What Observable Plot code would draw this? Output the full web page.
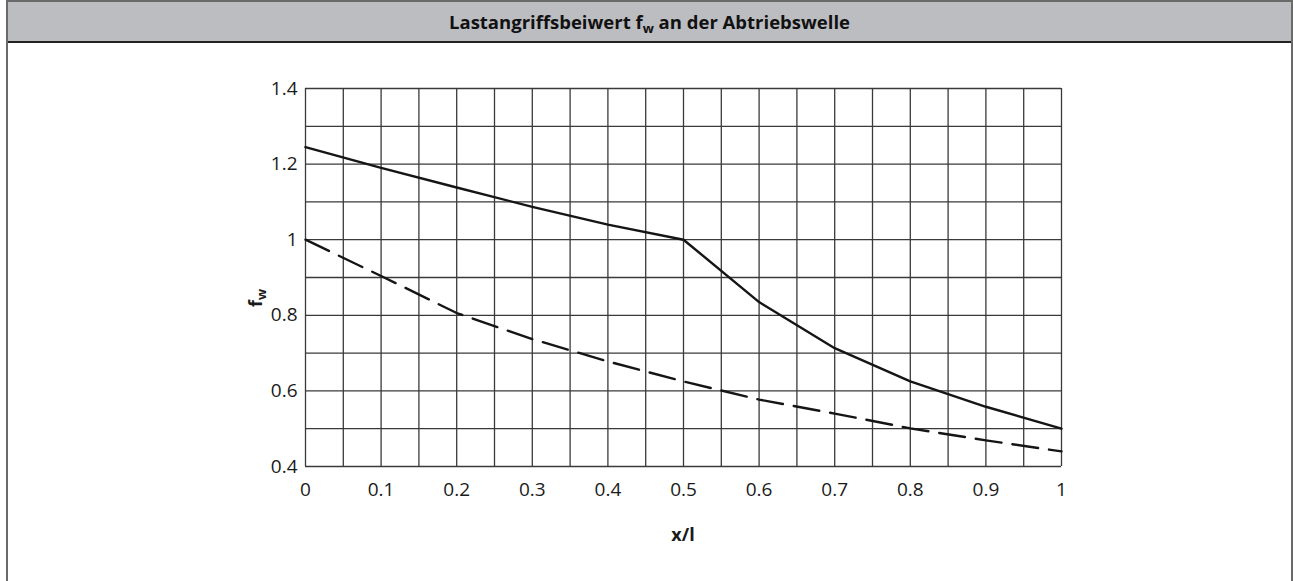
<!DOCTYPE html>
<html><head><meta charset="utf-8">
<script src="https://cdn.jsdelivr.net/npm/d3@7"></script>
<script src="https://cdn.jsdelivr.net/npm/@observablehq/plot@0.6"></script>
<style>
body{margin:0;background:#fff;font-family:"Open Sans",sans-serif;}
#frame{position:absolute;left:6px;top:0;width:1283px;height:620px;border:2px solid #6a6a6a;border-bottom:none;}
#title{height:39px;background:#bcbdc1;border-bottom:2px solid #222;text-align:center;font-weight:bold;font-size:18.5px;line-height:39px;color:#111;}
#title sub{font-size:13px;vertical-align:-4px;line-height:0;}
#chart{position:absolute;left:0;top:42px;}
</style></head><body>
<div id="frame"><div id="title">Lastangriffsbeiwert f<sub>w</sub> an der Abtriebswelle</div></div>
<div id="chart"></div>
<script>
const xValues = [0, 0.1, 0.2, 0.3, 0.4, 0.5, 0.6, 0.7, 0.8, 0.9, 1.0];
const solidValues = [1.245, 1.19, 1.138, 1.087, 1.04, 1.0, 0.835, 0.713, 0.625, 0.558, 0.5];
const dashedValues = [1.0, 0.904, 0.806, 0.737, 0.678, 0.625, 0.577, 0.54, 0.501, 0.469, 0.44];
const xTickLabels = ["0", "0.1", "0.2", "0.3", "0.4", "0.5", "0.6", "0.7", "0.8", "0.9", "1"];
const yTickLabels = ["0.4", "0.6", "0.8", "1", "1.2", "1.4"];
const xGridValues = [0, 0.05, 0.1, 0.15, 0.2, 0.25, 0.3, 0.35, 0.4, 0.45, 0.5, 0.55, 0.6, 0.65, 0.7, 0.75, 0.8, 0.85, 0.9, 0.95, 1.0];
const yGridValues = [0.4, 0.5, 0.6, 0.7, 0.8, 0.9, 1.0, 1.1, 1.2, 1.3, 1.4];
const xLabel = "x/l";
const yLabelMain = "f";
const yLabelSub = "w";

const xTicks = xTickLabels.map(Number);
const yTicks = yTickLabels.map(Number);
const solid = xValues.map((x, i) => ({x, y: solidValues[i]}));
const dashed = xValues.map((x, i) => ({x, y: dashedValues[i]}));

const W = 1293, H = 539;
const mL = 305, mR = 232, mT = 46, mB = 115;

const plot = Plot.plot({
  width: W, height: H,
  marginLeft: mL, marginRight: mR, marginTop: mT, marginBottom: mB,
  style: {fontFamily: "'Open Sans', sans-serif", fontSize: "19px", color: "#1a1a1a", background: "transparent", overflow: "visible"},
  x: {domain: [0, 1]},
  y: {domain: [0.4, 1.4]},
  marks: [
    Plot.ruleX(xGridValues, {stroke: "#3a3a3a", strokeWidth: 1.3}),
    Plot.ruleY(yGridValues, {stroke: "#3a3a3a", strokeWidth: 1.3}),
    Plot.line(solid, {x: "x", y: "y", stroke: "#151515", strokeWidth: 2.4}),
    Plot.line(dashed, {x: "x", y: "y", stroke: "#151515", strokeWidth: 2.4, strokeDasharray: "26 11"}),
    Plot.axisX(xTicks, {tickSize: 0, tickPadding: 16, label: null, tickFormat: d => xTickLabels[xTicks.indexOf(d)]}),
    Plot.axisY(yTicks, {tickSize: 0, tickPadding: 8, label: null, tickFormat: d => yTickLabels[yTicks.indexOf(d)]})
  ]
});
document.getElementById("chart").appendChild(plot);

const svg = d3.select(plot);
const cx = mL + (W - mL - mR) / 2;
svg.append("text")
  .attr("x", cx).attr("y", 535 - 42)
  .attr("text-anchor", "middle").attr("dy", "0.35em")
  .attr("font-weight", "bold").attr("font-size", 18).attr("fill", "#1a1a1a")
  .text(xLabel);
const yl = svg.append("text")
  .attr("transform", `translate(256,${298 - 42}) rotate(-90)`)
  .attr("text-anchor", "middle").attr("dy", "0.35em")
  .attr("font-weight", "bold").attr("font-size", 18).attr("fill", "#1a1a1a");
yl.append("tspan").text(yLabelMain);
yl.append("tspan").attr("dy", "0.3em").attr("font-size", 13).text(yLabelSub);
</script>
</body></html>
